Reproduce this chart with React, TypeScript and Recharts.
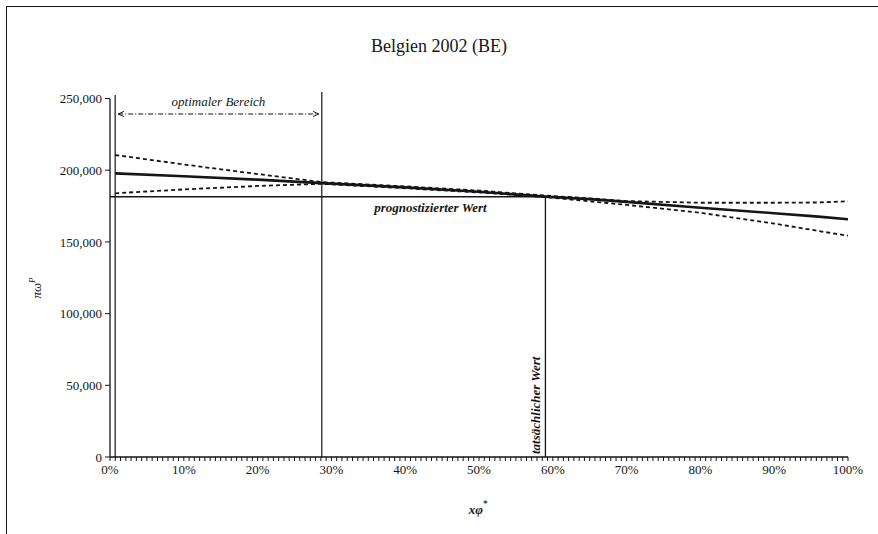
import { ComposedChart, Line, XAxis, YAxis, ReferenceLine, Label } from 'recharts';

const xShares = [0.7, 10, 20, 28.7, 40, 50, 59, 65, 70, 80, 90, 96, 100];
const mainValues = [197800, 195800, 193400, 191000, 188000, 185000, 181600, 179800, 177900, 173800, 170000, 167600, 165800];
const upperValues = [210600, 204000, 197300, 191700, 188700, 185800, 182300, 180400, 178500, 177300, 177300, 177500, 178300];
const lowerValues = [183900, 186600, 189000, 190500, 187400, 184500, 181300, 178300, 175800, 170300, 162800, 157600, 154300];

const yTicks = [0, 50000, 100000, 150000, 200000, 250000];
const xLabels = [0, 10, 20, 30, 40, 50, 60, 70, 80, 90, 100];

const optimalFrom = 0.7;
const optimalTo = 28.7;
const actualShare = 59;
const forecastValue = 181500;

const data = xShares.map((x, i) => ({
  x,
  main: mainValues[i],
  upper: upperValues[i],
  lower: lowerValues[i],
}));

// minor ticks along the x axis, labels only at the 10% marks
const minorTicks: number[] = [];
for (let d = 0; d < 10; d++) {
  for (let j = 0; j < 14; j++) minorTicks.push(d * 10 + (j * 10) / 14);
}
minorTicks.push(100);

const FONT = '"Liberation Serif", "DejaVu Serif", serif';
const INK = '#151515';

function XTick(props: any) {
  const { x, y, payload } = props;
  const v = payload.value;
  if (!xLabels.some((l) => Math.abs(l - v) < 0.01)) return <g />;
  return (
    <text x={x} y={y + 11} textAnchor="middle" fontFamily={FONT} fontSize={13} fill={INK}>
      {`${Math.round(v)}%`}
    </text>
  );
}

function OptimalArrow(props: any) {
  const { x1, y1, x2, y2 } = props;
  return (
    <g>
      <defs>
        <marker id="arrowhead" viewBox="0 0 10 10" refX="9" refY="5" markerWidth="7" markerHeight="7" orient="auto-start-reverse">
          <path d="M0,1 L9,5 L0,9" fill="none" stroke={INK} strokeWidth={1.4} />
        </marker>
      </defs>
      <line x1={x1 + 3} y1={y1} x2={x2 - 3} y2={y2} stroke={INK} strokeWidth={1} strokeDasharray="5 2 1 2"
        markerStart="url(#arrowhead)" markerEnd="url(#arrowhead)" />
      <text x={(x1 + x2) / 2} y={y1 - 8} textAnchor="middle" fontFamily={FONT} fontSize={13}
        fontStyle="italic" fill={INK}>
        optimaler Bereich
      </text>
    </g>
  );
}

function ForecastLine(props: any) {
  const { x1, y1, x2, y2 } = props;
  return (
    <g>
      <line x1={x1} y1={y1} x2={x2} y2={y2} stroke={INK} strokeWidth={1.3} />
      <text x={x2 - 115} y={y1 + 15} textAnchor="middle" fontFamily={FONT} fontSize={13}
        fontStyle="italic" fontWeight="bold" fill={INK}>
        prognostizierter Wert
      </text>
    </g>
  );
}

function ActualLine(props: any) {
  const { x1, y1, x2, y2 } = props;
  const bottom = Math.max(y1, y2);
  return (
    <g>
      <line x1={x1} y1={y1} x2={x2} y2={y2} stroke={INK} strokeWidth={1.3} />
      <text transform={`translate(${x1 - 5}, ${bottom - 3}) rotate(-90)`} textAnchor="start" fontFamily={FONT}
        fontSize={13} fontStyle="italic" fontWeight="bold" fill={INK}>
        tatsächlicher Wert
      </text>
    </g>
  );
}

export default function App() {
  return (
    <div style={{ position: 'absolute', left: 0, top: 0, width: 878, height: 534, background: '#fff' }}>
      <div style={{
        position: 'absolute', left: 6, top: 6, right: 0, bottom: 0,
        borderLeft: `1px solid ${INK}`, borderTop: `1px solid ${INK}`,
      }} />
      <div style={{
        position: 'absolute', left: 0, width: 878, top: 36, textAlign: 'center',
        fontFamily: FONT, fontSize: 18, color: INK,
      }}>
        Belgien 2002 (BE)
      </div>
      <div style={{ position: 'absolute', left: 0, top: 0 }}>
        <ComposedChart width={878} height={534} data={data}
          margin={{ top: 98.5, right: 30, bottom: 37, left: 50 }}>
          <XAxis type="number" dataKey="x" domain={[0, 100]} ticks={minorTicks} interval={0}
            tickSize={4} tick={<XTick />} height={40} allowDataOverflow
            axisLine={{ stroke: INK, strokeWidth: 1.3 }} tickLine={{ stroke: INK }}>
            <Label position="insideBottom" offset={-12}
              content={() => (
                <text x={478} y={514} textAnchor="middle" fontFamily={FONT} fontSize={13}
                  fontStyle="italic" fontWeight="bold" fill={INK}>
                  xφ<tspan dy={-8} fontSize={9}>*</tspan>
                </text>
              )} />
          </XAxis>
          <YAxis type="number" domain={[0, 250000]} ticks={yTicks} width={60} tickSize={5}
            tickMargin={3} allowDataOverflow
            tickFormatter={(v: number) => v.toLocaleString('en-US')}
            tick={{ fontFamily: FONT, fontSize: 13, fill: INK }}
            axisLine={{ stroke: INK, strokeWidth: 1.3 }} tickLine={{ stroke: INK }}>
            <Label content={() => (
              <text transform="translate(41, 288) rotate(-90)" textAnchor="middle" fontFamily={FONT}
                fontSize={13} fontStyle="italic" fill={INK}>
                πω<tspan dy={-6} fontSize={9}>P</tspan>
              </text>
            )} />
          </YAxis>

          <ReferenceLine segment={[{ x: optimalFrom, y: 0 }, { x: optimalFrom, y: 252500 }]}
            stroke={INK} strokeWidth={1.2} ifOverflow="visible" />
          <ReferenceLine segment={[{ x: optimalTo, y: 0 }, { x: optimalTo, y: 254500 }]}
            stroke={INK} strokeWidth={1.2} ifOverflow="visible" />
          <ReferenceLine segment={[{ x: optimalFrom, y: 239200 }, { x: optimalTo, y: 239200 }]}
            ifOverflow="visible" shape={<OptimalArrow />} />
          <ReferenceLine segment={[{ x: 0, y: forecastValue }, { x: actualShare, y: forecastValue }]}
            ifOverflow="visible" shape={<ForecastLine />} />
          <ReferenceLine segment={[{ x: actualShare, y: 0 }, { x: actualShare, y: forecastValue }]}
            ifOverflow="visible" shape={<ActualLine />} />

          <Line type="linear" dataKey="upper" stroke={INK} strokeWidth={1.8} strokeDasharray="4 3"
            dot={false} isAnimationActive={false} />
          <Line type="linear" dataKey="lower" stroke={INK} strokeWidth={1.8} strokeDasharray="4 3"
            dot={false} isAnimationActive={false} />
          <Line type="linear" dataKey="main" stroke={INK} strokeWidth={2.6}
            dot={false} isAnimationActive={false} />
        </ComposedChart>
      </div>
    </div>
  );
}
